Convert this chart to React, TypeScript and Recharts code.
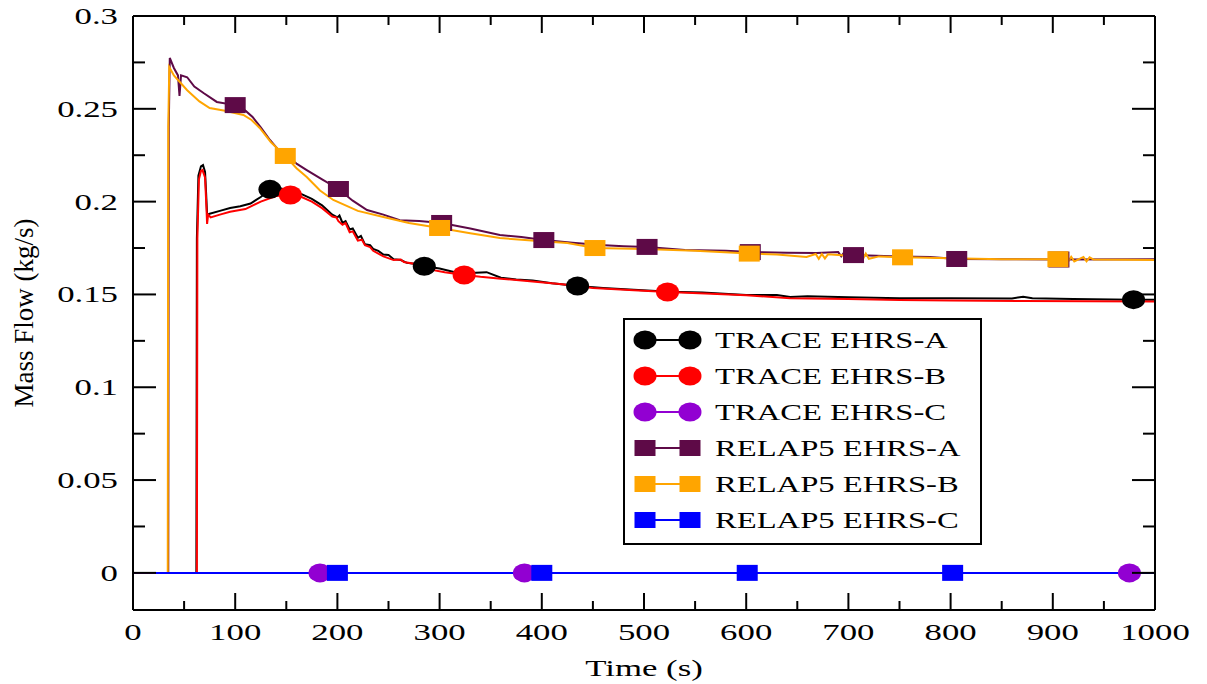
import React from 'react'
import { LineChart, Line, XAxis, YAxis, Legend } from 'recharts'

// time (s) / mass flow (kg/s) samples per run
const traceA: [number, number][] = [
  [0, 0], [62, 0], [62.5, 0.18], [64, 0.214], [66.5, 0.219], [68.5, 0.2197], [70.5, 0.216],
  [71.5, 0.205], [72.5, 0.193], [75, 0.1935], [85, 0.195], [95, 0.1966], [105, 0.1975],
  [115, 0.199], [125, 0.2025], [134, 0.2066], [145, 0.207], [155, 0.2055], [165, 0.204],
  [175, 0.2015], [185, 0.198], [195, 0.193], [200, 0.1915], [202, 0.1925], [205, 0.1885],
  [208, 0.1895], [212, 0.185], [215, 0.1855], [220, 0.1805], [223, 0.1815], [227, 0.177],
  [232, 0.1765], [235, 0.1745], [240, 0.1735], [245, 0.1715], [250, 0.1712], [255, 0.169],
  [262, 0.1685], [268, 0.167], [275, 0.1665], [285, 0.1652],
  [300, 0.164], [315, 0.162], [330, 0.1615], [346, 0.162], [360, 0.159], [375, 0.158],
  [391, 0.1575], [410, 0.156], [435, 0.1545], [460, 0.1535], [490, 0.1525], [525, 0.1515],
  [557, 0.151], [600, 0.1497], [630, 0.1497], [643, 0.1486], [660, 0.149], [700, 0.1485],
  [750, 0.148], [800, 0.148], [860, 0.1478], [871, 0.1488], [880, 0.148], [920, 0.1476],
  [979, 0.1472], [1000, 0.1472],
]
const traceB: [number, number][] = [
  [0, 0], [62.5, 0], [63, 0.18], [64.5, 0.212], [66.5, 0.2165], [68, 0.217], [70.5, 0.213],
  [72, 0.195], [72.5, 0.188], [73.5, 0.193], [76, 0.1915], [85, 0.193], [95, 0.1945],
  [110, 0.196], [125, 0.2], [140, 0.203], [154, 0.2036], [165, 0.2025], [175, 0.2],
  [185, 0.1965], [195, 0.192], [199, 0.1915], [201, 0.1895], [205, 0.1875], [208, 0.1885],
  [212, 0.1835], [215, 0.184], [220, 0.179], [224, 0.1795], [227, 0.1765], [232, 0.1755],
  [235, 0.1735], [245, 0.1705], [255, 0.1685], [262, 0.1688], [265, 0.1675], [275, 0.1665],
  [290, 0.1635], [305, 0.162],
  [324, 0.1605], [340, 0.1595], [360, 0.1585], [391, 0.157], [420, 0.1555], [450, 0.1535],
  [490, 0.1522], [523, 0.1513], [560, 0.1505], [600, 0.1495], [643, 0.148], [700, 0.1475],
  [750, 0.147], [800, 0.1468], [871, 0.1465], [1000, 0.1462],
]
const traceC: [number, number][] = [[0, 0], [183, 0], [383, 0], [975, 0], [1000, 0]]
const relapA: [number, number][] = [
  [22, 0], [34.5, 0], [35, 0.24], [36, 0.2774], [40, 0.272], [44, 0.268], [45.5, 0.257],
  [47, 0.268], [53, 0.267], [60, 0.262], [69, 0.2585], [82, 0.2537], [100, 0.252],
  [110, 0.249], [117, 0.2456], [125, 0.24], [134, 0.2332], [142, 0.228], [150, 0.2245],
  [160, 0.2205], [170, 0.217], [185, 0.212], [201, 0.2068], [215, 0.2005], [229, 0.1955],
  [245, 0.193], [261, 0.19], [280, 0.1895], [302, 0.1885], [330, 0.1855], [359, 0.182],
  [380, 0.181], [402, 0.1793], [430, 0.1778], [457, 0.1766], [480, 0.176], [503, 0.1756],
  [540, 0.174], [580, 0.1735], [604, 0.1728], [640, 0.1725], [669, 0.1723], [690, 0.1728],
  [693, 0.1705], [696, 0.1728], [705, 0.1712], [750, 0.1705], [780, 0.1702], [806, 0.1691],
  [850, 0.169], [906, 0.1688], [1000, 0.169],
]
const relapB: [number, number][] = [
  [22, 0], [34, 0], [34.5, 0.24], [35.5, 0.2725], [40, 0.268], [53, 0.26], [65, 0.254],
  [75, 0.2504], [90, 0.249], [108, 0.2467], [116, 0.244], [124, 0.2397], [135, 0.232],
  [149, 0.2246], [160, 0.218], [170, 0.2133], [183, 0.206], [196, 0.2009], [220, 0.195],
  [245, 0.1917], [270, 0.1885], [300, 0.1858], [330, 0.183], [359, 0.1804], [390, 0.179],
  [425, 0.1777], [452, 0.175], [500, 0.1745], [550, 0.1735], [603, 0.172], [630, 0.1715],
  [659, 0.1702], [668, 0.1718], [671, 0.1692], [674, 0.1718], [677, 0.1694], [680, 0.1716],
  [700, 0.1708], [705, 0.1722], [708, 0.169], [711, 0.1724], [714, 0.1688], [717, 0.172],
  [720, 0.1692], [730, 0.1705], [753, 0.17], [800, 0.1695], [850, 0.169], [905, 0.169],
  [912, 0.1705], [915, 0.1676], [918, 0.1703], [921, 0.1678], [930, 0.1702], [933, 0.1678],
  [936, 0.17], [940, 0.1688], [1000, 0.1686],
]
const relapC: [number, number][] = [[22, 0], [200, 0], [400, 0], [601, 0], [802, 0], [1000, 0]]

// times at which each run carries a symbol
const traceAMarks = [134, 285, 435, 979]
const traceBMarks = [154, 324, 523]
const traceCMarks = [183, 383, 975]
const relapAMarks = [100, 201, 302, 402, 503, 604, 705, 806, 906]
const relapBMarks = [149, 300, 452, 603, 753, 905]
const relapCMarks = [200, 400, 601, 802]

const xTicks = [0, 50, 100, 150, 200, 250, 300, 350, 400, 450, 500, 550, 600, 650, 700, 750, 800, 850, 900, 950, 1000]
const yTicks = [0, 0.025, 0.05, 0.075, 0.1, 0.125, 0.15, 0.175, 0.2, 0.225, 0.25, 0.275, 0.3]

type Shape = 'circle' | 'square'
const series: { name: string; color: string; shape: Shape; points: [number, number][]; marks: number[] }[] = [
  { name: 'TRACE EHRS-A', color: '#000000', shape: 'circle', points: traceA, marks: traceAMarks },
  { name: 'TRACE EHRS-B', color: '#ff0000', shape: 'circle', points: traceB, marks: traceBMarks },
  { name: 'TRACE EHRS-C', color: '#9200d2', shape: 'circle', points: traceC, marks: traceCMarks },
  { name: 'RELAP5 EHRS-A', color: '#5e0a47', shape: 'square', points: relapA, marks: relapAMarks },
  { name: 'RELAP5 EHRS-B', color: '#ffa500', shape: 'square', points: relapB, marks: relapBMarks },
  { name: 'RELAP5 EHRS-C', color: '#0000ff', shape: 'square', points: relapC, marks: relapCMarks },
]

const FONT = '"Liberation Serif", "Times New Roman", serif'

function Symbol({ cx, cy, shape, color }: { cx: number; cy: number; shape: Shape; color: string }) {
  if (shape === 'circle') return <ellipse cx={cx} cy={cy} rx={11.5} ry={9.5} fill={color} />
  return <rect x={cx - 10.5} y={cy - 8} width={21} height={16} fill={color} />
}

const isMajorX = (v: number) => v % 100 === 0
const isMajorY = (v: number) => Math.round(v * 1000) % 50 === 0

function BottomTick({ x, y, payload }: any) {
  const major = isMajorX(payload.value)
  return (
    <g>
      <line x1={x} y1={y} x2={x} y2={y - (major ? 17 : 9)} stroke="#000" strokeWidth={2} />
      {major && (
        <text transform={`translate(${x},${y + 30}) scale(1.45,1)`} textAnchor="middle"
          fontFamily={FONT} fontSize={24} fill="#000">
          {payload.value}
        </text>
      )}
    </g>
  )
}

function TopTick({ x, y, payload }: any) {
  const major = isMajorX(payload.value)
  return <line x1={x} y1={y} x2={x} y2={y + (major ? 17 : 9)} stroke="#000" strokeWidth={2} />
}

function LeftTick({ x, y, payload }: any) {
  const major = isMajorY(payload.value)
  return (
    <g>
      <line x1={x} y1={y} x2={x + (major ? 23 : 12)} y2={y} stroke="#000" strokeWidth={2} />
      {major && (
        <text transform={`translate(${x - 15},${y + 8}) scale(1.45,1)`} textAnchor="end"
          fontFamily={FONT} fontSize={24} fill="#000">
          {String(Math.round(payload.value * 1000) / 1000)}
        </text>
      )}
    </g>
  )
}

function RightTick({ x, y, payload }: any) {
  const major = isMajorY(payload.value)
  return <line x1={x} y1={y} x2={x - (major ? 23 : 12)} y2={y} stroke="#000" strokeWidth={2} />
}

function LegendBox() {
  return (
    <svg width={360} height={228} style={{ display: 'block' }}>
      <rect x={1} y={1} width={357} height={225} fill="#fff" stroke="#000" strokeWidth={2} />
      {series.map((s, i) => {
        const cy = 22 + i * 36
        return (
          <g key={s.name}>
            <line x1={22} y1={cy} x2={67} y2={cy} stroke={s.color} strokeWidth={2} />
            <Symbol cx={22} cy={cy} shape={s.shape} color={s.color} />
            <Symbol cx={67} cy={cy} shape={s.shape} color={s.color} />
            <text transform={`translate(92,${cy + 8}) scale(1.36,1)`} fontFamily={FONT} fontSize={24} fill="#000">
              {s.name}
            </text>
          </g>
        )
      })}
    </svg>
  )
}

export default function App() {
  return (
    <div style={{ position: 'absolute', left: 0, top: 0, background: '#fff' }}>
      <LineChart width={1207} height={684} margin={{ top: 15, right: 51, bottom: 14, left: 33 }}>
        <XAxis type="number" dataKey="t" domain={[0, 1000]} allowDataOverflow ticks={xTicks} interval={0}
          height={60} tickSize={0} tickMargin={0} tickLine={false} tick={<BottomTick />}
          axisLine={{ stroke: '#000', strokeWidth: 2 }}
          label={{
            content: () => (
              <text transform="translate(644,676) scale(1.45,1)" textAnchor="middle" fontFamily={FONT} fontSize={24} fill="#000">
                Time (s)
              </text>
            ),
          }} />
        <XAxis xAxisId="top" orientation="top" type="number" dataKey="t" domain={[0, 1000]} allowDataOverflow
          ticks={xTicks} interval={0} height={1} tickSize={0} tickMargin={0} tickLine={false} tick={<TopTick />}
          axisLine={{ stroke: '#000', strokeWidth: 2 }} />
        <YAxis type="number" domain={[-0.02, 0.3]} allowDataOverflow ticks={yTicks} interval={0} width={100}
          tickSize={0} tickMargin={0} tickLine={false} tick={<LeftTick />}
          axisLine={{ stroke: '#000', strokeWidth: 2 }}
          label={{
            content: () => (
              <text transform="translate(33,313) rotate(-90)" textAnchor="middle" fontFamily={FONT} fontSize={27} fill="#000">
                Mass Flow (kg/s)
              </text>
            ),
          }} />
        <YAxis yAxisId="right" orientation="right" type="number" domain={[-0.02, 0.3]} allowDataOverflow
          ticks={yTicks} interval={0} width={1} tickSize={0} tickMargin={0} tickLine={false} tick={<RightTick />}
          axisLine={{ stroke: '#000', strokeWidth: 2 }} />
        <Legend layout="vertical" align="center" verticalAlign="middle" content={() => <LegendBox />}
          wrapperStyle={{ position: 'absolute', left: 623, top: 318, width: 360, height: 228 }} />
        {series.map((s) => (
          <Line key={s.name} name={s.name} data={s.points.map(([t, v]) => ({ t, v }))} dataKey="v"
            type="linear" stroke={s.color} strokeWidth={2} isAnimationActive={false} activeDot={false}
            dot={(p: any) =>
              s.marks.includes(p.payload.t)
                ? <Symbol key={`${s.name}-${p.index}`} cx={p.cx} cy={p.cy} shape={s.shape} color={s.color} />
                : <g key={`${s.name}-${p.index}`} />
            } />
        ))}
      </LineChart>
    </div>
  )
}
